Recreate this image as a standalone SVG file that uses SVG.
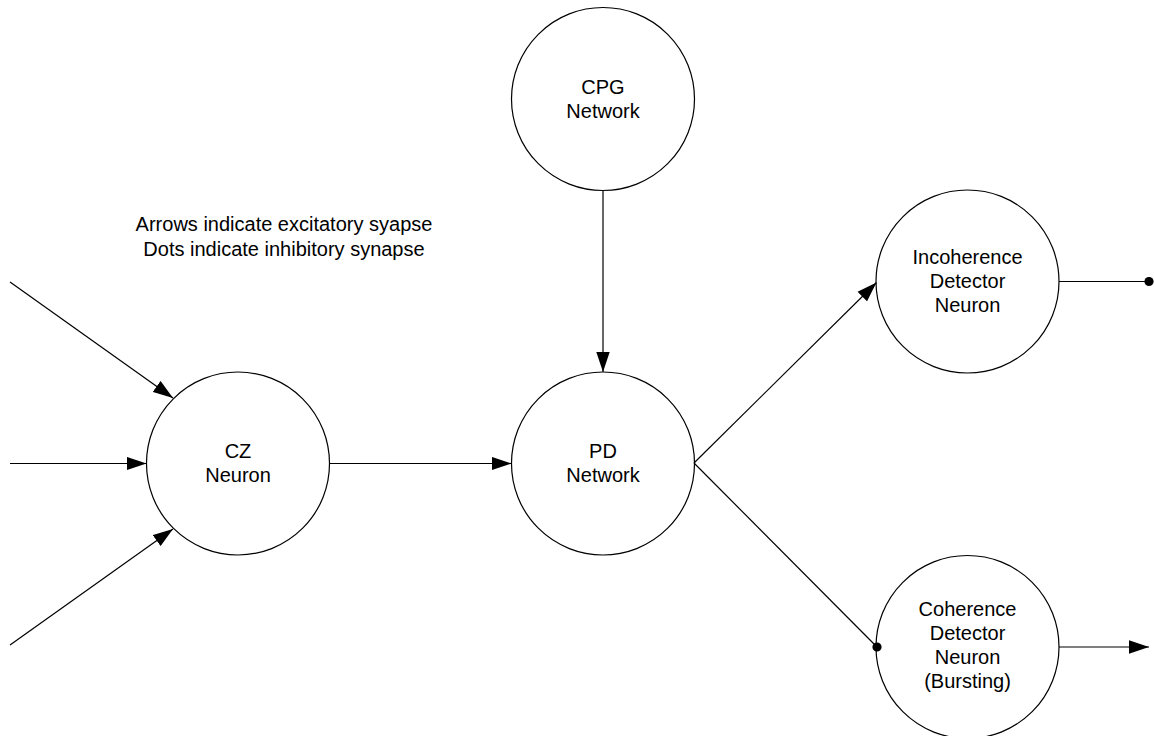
<svg xmlns="http://www.w3.org/2000/svg" width="1154" height="736" viewBox="0 0 1154 736">
<style>
.n{fill:#fff;stroke:#000;stroke-width:1.2}
.t{font-family:"Liberation Sans",Arial,sans-serif;font-size:20px;fill:#000;text-anchor:middle}
.c{stroke:#000;stroke-width:1.2;fill:none}
.a{marker-end:url(#arr)}
.d{marker-end:url(#dot)}
</style>
<defs>
<marker id="arr" markerUnits="userSpaceOnUse" viewBox="0 0 20 14" refX="20" refY="7" markerWidth="20" markerHeight="14" orient="auto">
<path d="M0,0.3 L20,7 L0,13.7 z" fill="#000"/>
</marker>
<marker id="dot" markerUnits="userSpaceOnUse" viewBox="0 0 10 10" refX="5" refY="5" markerWidth="10" markerHeight="10" orient="auto">
<circle cx="5" cy="5" r="4.6" fill="#000"/>
</marker>
</defs>
<g id="legend">
<text class="t" x="284" y="231">Arrows indicate excitatory syapse</text>
<text class="t" x="284" y="256">Dots indicate inhibitory synapse</text>
</g>
<g id="cpg">
<circle class="n" cx="603" cy="99" r="91.5"/>
<text class="t" x="603" y="94">CPG</text>
<text class="t" x="603" y="118">Network</text>
</g>
<g id="pd">
<circle class="n" cx="603" cy="463.5" r="91.5"/>
<text class="t" x="603" y="458">PD</text>
<text class="t" x="603" y="482">Network</text>
</g>
<g id="cz">
<circle class="n" cx="238" cy="463.5" r="91.5"/>
<text class="t" x="238" y="458">CZ</text>
<text class="t" x="238" y="482">Neuron</text>
</g>
<g id="incoherence">
<circle class="n" cx="967.5" cy="281.5" r="91.5"/>
<text class="t" x="967.5" y="263.5">Incoherence</text>
<text class="t" x="967.5" y="288">Detector</text>
<text class="t" x="967.5" y="312">Neuron</text>
</g>
<g id="coherence">
<circle class="n" cx="967.5" cy="647" r="91.5"/>
<text class="t" x="967.5" y="615.5">Coherence</text>
<text class="t" x="967.5" y="640">Detector</text>
<text class="t" x="967.5" y="664">Neuron</text>
<text class="t" x="967.5" y="688">(Bursting)</text>
</g>
<g id="connectors">
<line class="c a" x1="603" y1="190.5" x2="603" y2="372"/>
<line class="c a" x1="329.5" y1="463.5" x2="511.5" y2="463.5"/>
<line class="c a" x1="10" y1="282" x2="173" y2="398"/>
<line class="c a" x1="10" y1="463.5" x2="146.5" y2="463.5"/>
<line class="c a" x1="10" y1="645" x2="173" y2="529"/>
<line class="c a" x1="694" y1="463" x2="876.5" y2="282.5"/>
<line class="c d" x1="694" y1="463" x2="877" y2="647"/>
<line class="c d" x1="1059" y1="281.5" x2="1149" y2="281.5"/>
<line class="c a" x1="1059" y1="647" x2="1149" y2="647"/>
</g>
</svg>
